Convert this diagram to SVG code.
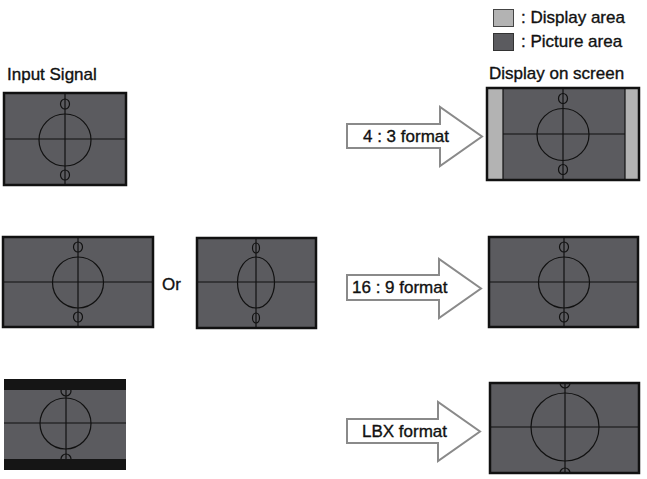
<svg xmlns="http://www.w3.org/2000/svg" width="647" height="479" viewBox="0 0 647 479">
<style>
text{font-family:"Liberation Sans",Arial,sans-serif;font-size:17px;fill:#111;stroke:#111;stroke-width:0.35}
.pic{fill:#5b5b5f}
.frame{fill:none;stroke:#111;stroke-width:2.5}
.ln{fill:none;stroke:#111;stroke-width:1.2}
.bar{fill:#b3b3b3}
.band{fill:#151515}
.arrow{fill:#fff;stroke:#8a8a8a;stroke-width:2;stroke-linejoin:miter}
</style>
<rect width="647" height="479" fill="#fff"/>

<g id="legend">
<rect x="493.5" y="9.5" width="20" height="17" fill="#b3b3b3" stroke="#444" stroke-width="1"/>
<text x="521" y="23">: Display area</text>
<rect x="493.5" y="33.5" width="20" height="17" fill="#5b5b5f" stroke="#333" stroke-width="1"/>
<text x="521" y="47">: Picture area</text>
</g>

<g id="title-input"><text x="7" y="80">Input Signal</text></g>
<g id="title-display"><text x="489" y="79">Display on screen</text></g>

<g id="in-43">
<rect class="pic" x="4" y="93" width="122" height="92"/>
<line class="ln" x1="4" y1="139" x2="126" y2="139"/>
<line class="ln" x1="65" y1="93" x2="65" y2="185"/>
<circle class="ln" cx="65" cy="140" r="26"/>
<ellipse class="ln" cx="65" cy="104" rx="4.5" ry="5"/>
<ellipse class="ln" cx="65" cy="175" rx="4.5" ry="5"/>
<rect class="frame" x="4" y="93" width="122" height="92"/>
</g>

<g id="in-169a">
<rect class="pic" x="3" y="237" width="150" height="90"/>
<line class="ln" x1="3" y1="282" x2="153" y2="282"/>
<line class="ln" x1="78" y1="237" x2="78" y2="327"/>
<circle class="ln" cx="78" cy="282.5" r="25.5"/>
<ellipse class="ln" cx="78" cy="247" rx="4.5" ry="5"/>
<ellipse class="ln" cx="78" cy="317" rx="4.5" ry="5"/>
<rect class="frame" x="3" y="237" width="150" height="90"/>
</g>
<g id="or-label"><text x="162" y="290">Or</text></g>
<g id="in-169b">
<rect class="pic" x="197" y="238" width="119" height="90"/>
<line class="ln" x1="197" y1="282" x2="316" y2="282"/>
<line class="ln" x1="256" y1="238" x2="256" y2="328"/>
<ellipse class="ln" cx="256" cy="282.5" rx="18.5" ry="25.5"/>
<ellipse class="ln" cx="256" cy="248" rx="3.5" ry="5"/>
<ellipse class="ln" cx="256" cy="318" rx="3.5" ry="5"/>
<rect class="frame" x="197" y="238" width="119" height="90"/>
</g>

<g id="in-lbx">
<rect class="pic" x="4" y="379" width="122" height="91"/>
<line class="ln" x1="4" y1="423" x2="126" y2="423"/>
<line class="ln" x1="66" y1="379" x2="66" y2="470"/>
<circle class="ln" cx="65.5" cy="423.5" r="25.5"/>
<circle class="ln" cx="66" cy="391" r="5"/>
<circle class="ln" cx="66" cy="459" r="5"/>
<rect class="band" x="4" y="379" width="122" height="11"/>
<rect class="band" x="4" y="459" width="122" height="11"/>
</g>

<g id="out-43">
<rect class="pic" x="487" y="88" width="152" height="92"/>
<rect class="bar" x="487" y="88" width="16" height="92"/>
<rect class="bar" x="625" y="88" width="14" height="92"/>
<line class="ln" x1="503" y1="134" x2="625" y2="134"/>
<line class="ln" x1="503" y1="88" x2="503" y2="180"/>
<line class="ln" x1="625" y1="88" x2="625" y2="180"/>
<line class="ln" x1="563" y1="88" x2="563" y2="180"/>
<circle class="ln" cx="563" cy="134.5" r="26"/>
<ellipse class="ln" cx="563" cy="98.5" rx="4.5" ry="5"/>
<ellipse class="ln" cx="563" cy="169.5" rx="4.5" ry="5"/>
<rect class="frame" x="487" y="88" width="152" height="92"/>
</g>

<g id="out-169">
<rect class="pic" x="489" y="237" width="149" height="90"/>
<line class="ln" x1="489" y1="282" x2="638" y2="282"/>
<line class="ln" x1="564" y1="237" x2="564" y2="327"/>
<circle class="ln" cx="564" cy="282.5" r="25.5"/>
<ellipse class="ln" cx="564" cy="247" rx="4.5" ry="5"/>
<ellipse class="ln" cx="564" cy="317" rx="4.5" ry="5"/>
<rect class="frame" x="489" y="237" width="149" height="90"/>
</g>

<g id="out-lbx">
<rect class="pic" x="490" y="383" width="149" height="90"/>
<line class="ln" x1="490" y1="427" x2="639" y2="427"/>
<line class="ln" x1="565" y1="383" x2="565" y2="473"/>
<circle class="ln" cx="565" cy="427" r="34"/>
<path class="ln" d="M560,383 A5,5 0 0 0 570,383"/>
<path class="ln" d="M560,473 A5,5 0 0 1 570,473"/>
<rect class="frame" x="490" y="383" width="149" height="90"/>
</g>

<g id="connectors">
<g id="arrow-43">
<polygon class="arrow" points="347,124 440,124 440,107 482,136.5 440,166 440,148 347,148"/>
<text x="363" y="142">4 : 3 format</text>
</g>
<g id="arrow-169">
<polygon class="arrow" points="347,275 439,275 439,259 481,288.5 439,318 439,300 347,300"/>
<text x="352" y="293">16 : 9 format</text>
</g>
<g id="arrow-lbx">
<polygon class="arrow" points="347,419 438,419 438,402 480,431.5 438,461 438,443 347,443"/>
<text x="362" y="437">LBX format</text>
</g>
</g>
</svg>
